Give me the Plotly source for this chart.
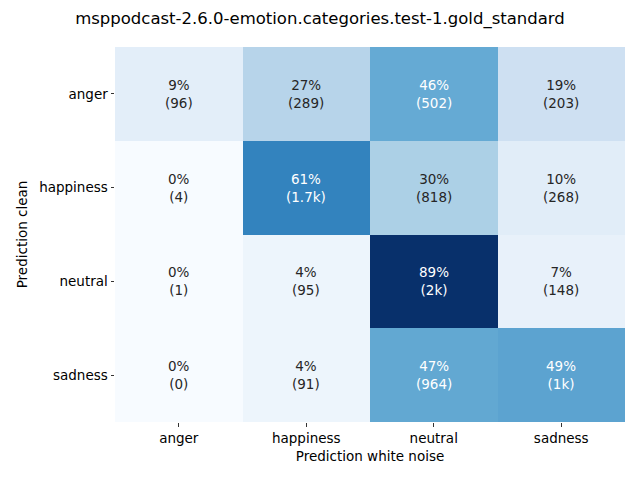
import plotly.graph_objects as go

labels = ["anger", "happiness", "neutral", "sadness"]
counts = [
    [96, 289, 502, 203],
    [4, 1675, 818, 268],
    [1, 95, 1960, 148],
    [0, 91, 964, 1000],
]
title = "msppodcast-2.6.0-emotion.categories.test-1.gold_standard"
xlabel = "Prediction white noise"
ylabel = "Prediction clean"

blues = ["#f7fbff", "#deebf7", "#c6dbef", "#9ecae1", "#6baed6",
         "#4292c6", "#2171b5", "#08519c", "#08306b"]
colorscale = [[i / (len(blues) - 1), c] for i, c in enumerate(blues)]

pct = []
for row in counts:
    s = sum(row)
    pct.append([v / s * 100 for v in row])
zmax = max(max(r) for r in pct)


def fmt(c):
    if c >= 1000:
        s = f"{c/1000:.1f}".rstrip("0").rstrip(".")
        return s + "k"
    return str(c)


fig = go.Figure(go.Heatmap(
    z=pct, x=labels, y=labels, colorscale=colorscale, zmin=0, zmax=zmax,
    showscale=False, hoverinfo="skip", xgap=0, ygap=0,
))

annotations = []
for i, row in enumerate(counts):
    for j, c in enumerate(row):
        p = pct[i][j]
        color = "white" if p / zmax > 0.45 else "#262626"
        annotations.append(dict(
            x=labels[j], y=labels[i], xref="x", yref="y",
            text=f"{round(p):.0f}%<br>({fmt(c)})", showarrow=False,
            font=dict(family="DejaVu Sans", size=13.5, color=color),
        ))

fig.update_layout(
    width=640, height=480,
    margin=dict(l=115, r=15, t=47, b=58),
    paper_bgcolor="white", plot_bgcolor="white",
    font=dict(family="DejaVu Sans", size=13.5, color="black"),
    title=dict(text=title, x=0.5, xref="container", xanchor="center",
               y=1 - 18 / 480, yref="container", yanchor="middle",
               pad=dict(t=0, b=0, l=0, r=0),
               font=dict(size=16.5, color="black")),
    annotations=annotations,
    xaxis=dict(title=dict(text=xlabel, standoff=6, font=dict(size=13.5)),
               automargin=False,
               ticks="outside", ticklen=3.5, tickcolor="black", tickwidth=0.8,
               showgrid=False, zeroline=False, showline=False),
    yaxis=dict(title=dict(text=ylabel, standoff=8, font=dict(size=13.5)),
               automargin=False,
               ticks="outside", ticklen=3.5, tickcolor="black", tickwidth=0.8,
               showgrid=False, zeroline=False, showline=False,
               autorange="reversed"),
)

fig.write_html("out.html", config={"displayModeBar": False, "staticPlot": True},
               post_script="document.body.style.margin='0';document.body.style.overflow='hidden';")
